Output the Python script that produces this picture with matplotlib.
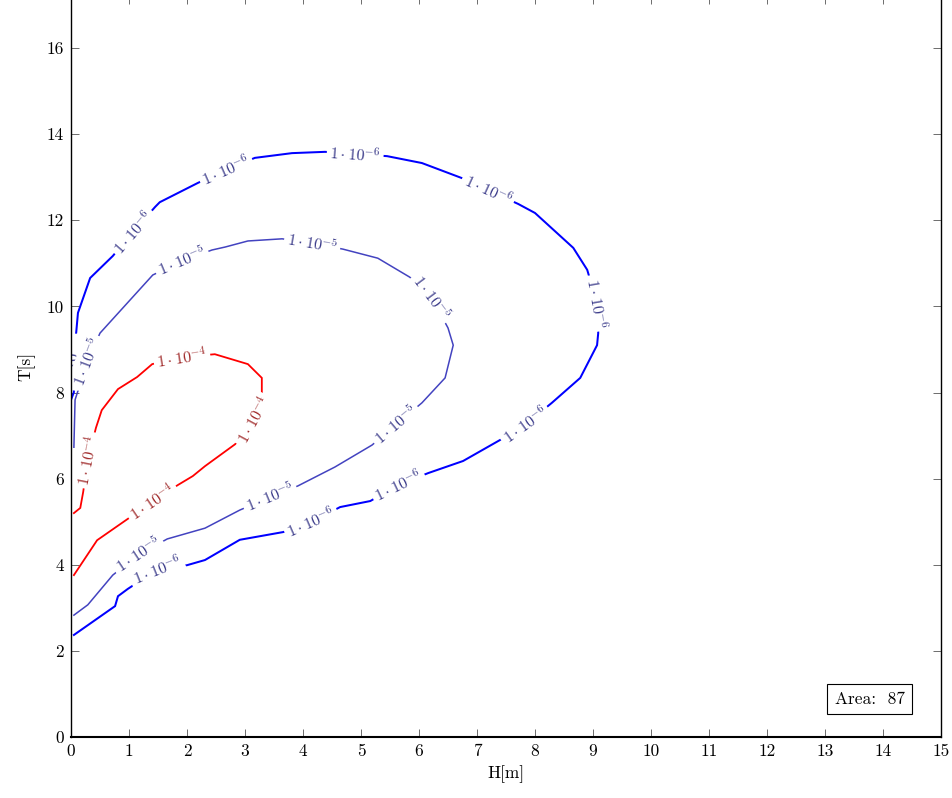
import numpy as np
import matplotlib
matplotlib.use("Agg")
import matplotlib.pyplot as plt

plt.rcParams['font.family'] = 'serif'
plt.rcParams['font.serif'] = ['cmr10', 'DejaVu Serif']
plt.rcParams['mathtext.fontset'] = 'cm'
plt.rcParams['axes.unicode_minus'] = False

# ---- data (contour paths, label points included) ----
h_1e6 = [0.05, 0.76, 0.81, 0.98, 1.48, 2.00, 2.31, 2.91, 3.66, 4.14, 4.64, 5.16, 5.64,
         6.16, 6.76, 7.40, 7.83, 8.29, 8.78, 9.07, 9.09, 9.07, 8.90, 8.66, 8.00, 7.71,
         7.19, 6.74, 6.05, 5.45, 4.90, 4.38, 3.81, 3.17, 2.67, 2.19, 1.53, 1.45, 1.07,
         0.72, 0.33, 0.12, 0.09, 0.02, 0.05, 0.00]
t_1e6 = [2.37, 3.04, 3.27, 3.44, 3.88, 3.99, 4.11, 4.58, 4.76, 4.99, 5.34, 5.48, 5.85,
         6.13, 6.41, 6.90, 7.25, 7.76, 8.34, 9.10, 9.38, 10.08, 10.85, 11.36, 12.17, 12.38,
         12.70, 12.98, 13.33, 13.49, 13.54, 13.59, 13.56, 13.45, 13.17, 12.87, 12.42, 12.31, 11.73,
         11.17, 10.66, 9.85, 9.40, 8.71, 8.01, 7.83]
lab_1e6 = [4, 9, 12, 16, 21, 26, 30, 34, 38, 43]

h_1e5 = [0.05, 0.29, 0.72, 1.16, 1.66, 2.31, 2.91, 3.43, 3.91, 4.55, 5.19, 5.60, 6.05,
         6.45, 6.59, 6.50, 6.22, 5.84, 5.29, 4.69, 4.16, 3.64, 3.05, 2.66, 2.43, 1.91,
         1.41, 0.50, 0.28, 0.07, 0.05]
t_1e5 = [2.83, 3.07, 3.76, 4.23, 4.60, 4.85, 5.27, 5.57, 5.83, 6.27, 6.78, 7.25, 7.76,
         8.34, 9.10, 9.50, 10.20, 10.68, 11.12, 11.33, 11.47, 11.57, 11.52, 11.38, 11.31, 11.05,
         10.73, 9.38, 8.71, 7.83, 6.73]
lab_1e5 = [3, 7, 11, 16, 20, 25, 28]

h_1e4 = [0.05, 0.45, 0.93, 1.40, 1.84, 2.10, 2.31, 2.83, 3.14, 3.29, 3.29, 3.05, 2.48,
         1.91, 1.40, 1.14, 0.81, 0.53, 0.43, 0.29, 0.21, 0.16, 0.05]
t_1e4 = [3.76, 4.57, 5.02, 5.46, 5.85, 6.06, 6.29, 6.80, 7.36, 7.94, 8.34, 8.66, 8.89,
         8.82, 8.66, 8.36, 8.08, 7.59, 7.18, 6.43, 5.69, 5.32, 5.20]
lab_1e4 = [3, 8, 13, 19]

levels = [r'$1\cdot10^{-6}$', r'$1\cdot10^{-5}$', r'$1\cdot10^{-4}$']
area_text = 'Area:  87'

# ---- figure ----
fig = plt.figure(figsize=(9.52, 7.98), dpi=100)
ax = fig.add_axes([71/952, 61/798, 870/952, 740.6/798])
ax.set_xlim(0, 15)
ax.set_ylim(0, 17.2)

series = [
    (h_1e6, t_1e6, lab_1e6, levels[0], '#0000ff', 1.45, '#3b3b8a'),
    (h_1e5, t_1e5, lab_1e5, levels[1], '#4343c0', 1.1, '#3b3b8a'),
    (h_1e4, t_1e4, lab_1e4, levels[2], '#ff0000', 1.3, '#a02a2a'),
]

fig.canvas.draw()
for hx, ty, labs, txt, col, lw, tcol in series:
    ax.plot(hx, ty, color=col, lw=lw, zorder=2, solid_joinstyle='miter')
    pts = ax.transData.transform(np.column_stack([hx, ty]))
    for i in labs:
        a = pts[max(i - 1, 0)]
        b = pts[min(i + 1, len(hx) - 1)]
        ang = np.degrees(np.arctan2(b[1] - a[1], b[0] - a[0]))
        if ang > 90:
            ang -= 180
        elif ang < -90:
            ang += 180
        ax.text(hx[i], ty[i], txt, rotation=ang, rotation_mode='anchor',
                ha='center', va='center', fontsize=11.5, color=tcol, zorder=3,
                clip_on=True,
                bbox=dict(boxstyle='square,pad=0.2', fc='white', ec='none'))

ax.set_xticks(range(0, 16))
ax.set_yticks(range(0, 17, 2))
ax.tick_params(direction='in', length=6, width=0.6, color='#555555',
               top=True, right=True, labelsize=12.5, pad=5)
for s in ['left', 'bottom', 'right']:
    ax.spines[s].set_linewidth(1.0)
    ax.spines[s].set_zorder(6)
ax.spines['top'].set_visible(False)
ax.spines['bottom'].set_linewidth(1.5)

ax.set_xlabel('H[m]', fontsize=12.5, labelpad=4)
ax.set_ylabel('T[s]', fontsize=12.5, labelpad=8)

ax.text(0.918, 0.051, area_text, transform=ax.transAxes, ha='center', va='center',
        fontsize=12.5, zorder=4,
        bbox=dict(boxstyle='square,pad=0.42', fc='white', ec='black', lw=0.8))

fig.savefig('out.png', dpi=100)
